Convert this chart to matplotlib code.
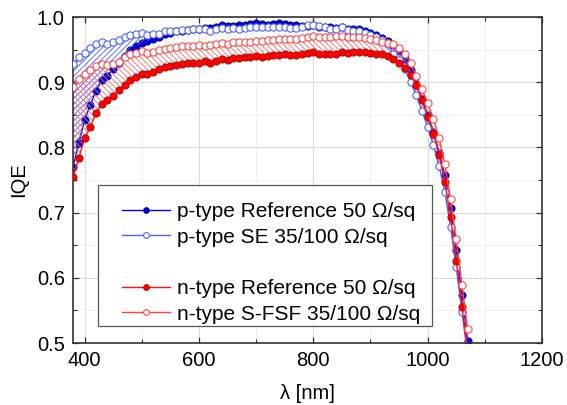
import matplotlib
matplotlib.use("Agg")
import matplotlib.pyplot as plt
from matplotlib.lines import Line2D
from matplotlib.patches import Rectangle
from matplotlib.ticker import MultipleLocator

plt.rcParams['font.family'] = ['Liberation Sans', 'DejaVu Sans']
plt.rcParams['hatch.linewidth'] = 0.6

# wavelength grid, 10 nm steps
wl = [380, 390, 400, 410, 420, 430, 440, 450, 460, 470,
      480, 490, 500, 510, 520, 530, 540, 550, 560, 570,
      580, 590, 600, 610, 620, 630, 640, 650, 660, 670,
      680, 690, 700, 710, 720, 730, 740, 750, 760, 770,
      780, 790, 800, 810, 820, 830, 840, 850, 860, 870,
      880, 890, 900, 910, 920, 930, 940, 950, 960, 970,
      980, 990, 1000, 1010, 1020, 1030, 1040, 1050, 1060, 1070]

p_ref = [0.770, 0.807, 0.842, 0.865, 0.887, 0.903, 0.910, 0.921, 0.930, 0.940,
         0.949, 0.955, 0.960, 0.963, 0.967, 0.970, 0.974, 0.976, 0.978, 0.979,
         0.980, 0.981, 0.982, 0.983, 0.983, 0.985, 0.988, 0.986, 0.986, 0.988,
         0.988, 0.989, 0.991, 0.989, 0.988, 0.990, 0.991, 0.989, 0.988, 0.987,
         0.986, 0.986, 0.987, 0.985, 0.984, 0.984, 0.983, 0.984, 0.982, 0.981,
         0.982, 0.978, 0.975, 0.972, 0.968, 0.963, 0.957, 0.948, 0.935, 0.918,
         0.898, 0.875, 0.850, 0.824, 0.792, 0.757, 0.707, 0.643, 0.573, 0.503]

p_se = [0.928, 0.938, 0.945, 0.952, 0.958, 0.962, 0.959, 0.962, 0.964, 0.969,
        0.972, 0.974, 0.976, 0.972, 0.974, 0.974, 0.978, 0.978, 0.979, 0.980,
        0.980, 0.981, 0.981, 0.981, 0.979, 0.982, 0.983, 0.981, 0.983, 0.982,
        0.983, 0.985, 0.984, 0.984, 0.985, 0.984, 0.985, 0.984, 0.983, 0.983,
        0.984, 0.987, 0.988, 0.986, 0.984, 0.982, 0.981, 0.984, 0.980, 0.978,
        0.978, 0.975, 0.972, 0.969, 0.965, 0.958, 0.944, 0.934, 0.920, 0.901,
        0.880, 0.856, 0.831, 0.803, 0.771, 0.732, 0.678, 0.616, 0.548, 0.480]

n_ref = [0.755, 0.784, 0.814, 0.831, 0.853, 0.866, 0.872, 0.879, 0.888, 0.896,
         0.903, 0.908, 0.913, 0.912, 0.916, 0.920, 0.924, 0.925, 0.927, 0.928,
         0.929, 0.929, 0.930, 0.932, 0.930, 0.933, 0.936, 0.934, 0.937, 0.937,
         0.939, 0.939, 0.940, 0.939, 0.940, 0.941, 0.942, 0.943, 0.941, 0.942,
         0.943, 0.945, 0.946, 0.944, 0.944, 0.943, 0.944, 0.946, 0.945, 0.947,
         0.947, 0.946, 0.945, 0.944, 0.943, 0.940, 0.935, 0.930, 0.922, 0.911,
         0.895, 0.872, 0.847, 0.821, 0.789, 0.747, 0.693, 0.626, 0.556, 0.487]

n_sfsf = [0.893, 0.905, 0.912, 0.918, 0.925, 0.928, 0.927, 0.928, 0.931, 0.938,
          0.943, 0.945, 0.948, 0.945, 0.947, 0.950, 0.951, 0.953, 0.954, 0.955,
          0.955, 0.956, 0.957, 0.956, 0.957, 0.959, 0.960, 0.959, 0.961, 0.961,
          0.962, 0.962, 0.963, 0.963, 0.964, 0.965, 0.966, 0.966, 0.967, 0.967,
          0.968, 0.969, 0.971, 0.970, 0.969, 0.970, 0.971, 0.971, 0.970, 0.970,
          0.969, 0.968, 0.967, 0.965, 0.962, 0.960, 0.958, 0.953, 0.943, 0.929,
          0.910, 0.889, 0.868, 0.844, 0.814, 0.775, 0.721, 0.659, 0.589, 0.521]

labels = ["p-type Reference 50 \u03a9/sq", "p-type SE 35/100 \u03a9/sq",
          "n-type Reference 50 \u03a9/sq", "n-type S-FSF 35/100 \u03a9/sq"]

fig = plt.figure(figsize=(5.67, 4.05), dpi=100)
ax = fig.add_axes([0.129, 0.153, 0.827, 0.805])

ms = 5.2
l1, = ax.plot(wl, p_ref, color='#0000ee', lw=1.0, marker='o', ms=ms,
              mfc='#0000dd', mec='#00008a', mew=0.6, zorder=2, label=labels[0])
ax.fill_between(wl, p_ref, p_se, facecolor='none', edgecolor='#4a5cff',
                hatch='//////', lw=0, zorder=2.5)
ax.fill_between(wl, n_ref, n_sfsf, facecolor='none', edgecolor='#ff6a6a',
                hatch='\\\\\\\\\\\\', lw=0, zorder=2.5)
l2, = ax.plot(wl, p_se, color='#4f5fff', lw=1.0, marker='o', ms=ms,
              mfc='white', mec='#5060ff', mew=0.8, zorder=3, label=labels[1])
l3, = ax.plot(wl, n_ref, color='#ff1010', lw=1.0, marker='o', ms=ms,
              mfc='#ff0000', mec='#b00000', mew=0.6, zorder=3, label=labels[2])
l4, = ax.plot(wl, n_sfsf, color='#ff4040', lw=1.0, marker='o', ms=ms,
              mfc='white', mec='#ff4a4a', mew=0.8, zorder=3, label=labels[3])

ax.set_xlim(380, 1200)
ax.set_ylim(0.5, 1.0)
ax.xaxis.set_major_locator(MultipleLocator(200))
ax.xaxis.set_minor_locator(MultipleLocator(100))
ax.yaxis.set_major_locator(MultipleLocator(0.1))
ax.yaxis.set_minor_locator(MultipleLocator(0.05))
ax.yaxis.set_major_formatter(plt.FormatStrFormatter('%.1f'))
ax.grid(which='major', color='#dcdcdc', lw=0.8, zorder=0)
ax.grid(which='minor', color='#efefef', lw=0.6, zorder=0)
ax.set_axisbelow(True)
ax.tick_params(which='both', direction='in', top=True, right=True,
               labelsize=14.5, color='#333333')
ax.tick_params(which='major', length=4, width=0.9, pad=6)
ax.tick_params(which='minor', length=3, width=0.8)
for s in ax.spines.values():
    s.set_color('#333333')
    s.set_linewidth(1.2)

ax.set_xlabel("\u03bb [nm]", fontsize=14.5, labelpad=10)
ax.set_ylabel("IQE", fontsize=14.5, labelpad=6)

# legend frame drawn separately so the padding can match the original
box = Rectangle((0.053, 0.052), 0.712, 0.433, transform=ax.transAxes,
                facecolor='white', edgecolor='#555555', lw=0.9, zorder=4.5)
ax.add_patch(box)

blank = Line2D([], [], color='none', label=' ')
leg = ax.legend(handles=[l1, l2, blank, l3, l4], loc='upper left',
                bbox_to_anchor=(0.105, 0.433), borderaxespad=0, borderpad=0,
                fontsize=15, handlelength=2.3, handletextpad=0.3,
                labelspacing=0.32, frameon=False, markerscale=0.8)
leg.set_zorder(5)

fig.savefig("out.png", dpi=100)
